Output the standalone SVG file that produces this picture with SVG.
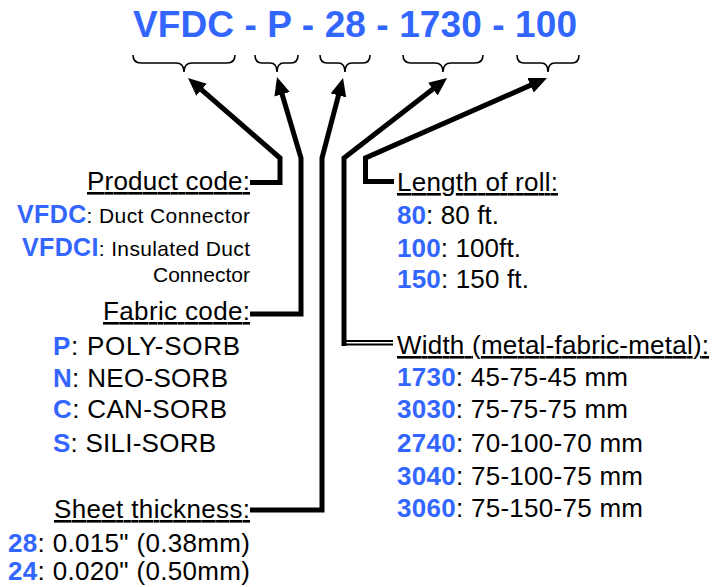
<svg xmlns="http://www.w3.org/2000/svg" width="724" height="587" viewBox="0 0 724 587">
<style>
text{font-family:"Liberation Sans",Arial,sans-serif;fill:#000;}
.t{font-size:37px;font-weight:bold;fill:#3366ff;}
.h{font-size:26px;text-decoration:underline;}
.i{font-size:26px;}
.s{font-size:21px;}
.b{font-weight:bold;fill:#3366ff;}
.pb{font-size:25px;font-weight:bold;fill:#3366ff;}
.brace{fill:none;stroke:#000;stroke-width:1.6;}
.arr{fill:none;stroke:#000;stroke-width:5;stroke-linejoin:miter;marker-end:url(#ah);}
.dbl{stroke:#000;stroke-width:2;}
</style>
<defs>
<marker id="ah" markerUnits="userSpaceOnUse" markerWidth="18" markerHeight="16" viewBox="0 0 18 16" refX="12" refY="8" orient="auto">
<path d="M0,0 L18,8 L0,16 Z" fill="#000"/>
</marker>
</defs>
<rect width="724" height="587" fill="#fff"/>
<g id="title">
<text class="t" x="133" y="37" textLength="444" lengthAdjust="spacing">VFDC - P - 28 - 1730 - 100</text>
</g>
<g id="braces">
<path class="brace" d="M133,55 Q133,63 141,63 H176 Q184,63 184,72 Q184,63 192,63 H227 Q235,63 235,55"/>
<path class="brace" d="M255,55 Q255,63 262,63 H270 Q277,63 277,72 Q277,63 284,63 H291 Q298,63 298,55"/>
<path class="brace" d="M320,55 Q320,63 327,63 H338 Q345,63 345,72 Q345,63 352,63 H363 Q370,63 370,55"/>
<path class="brace" d="M403,55 Q403,63 411,63 H435 Q443,63 443,72 Q443,63 451,63 H475 Q483,63 483,55"/>
<path class="brace" d="M517,55 Q517,63 524,63 H541 Q548,63 548,72 Q548,63 555,63 H572 Q579,63 579,55"/>
</g>
<g id="connectors">
<path class="arr" d="M250,182.5 H280 V158 L192.5,81.9"/>
<path class="arr" d="M250,314 H301 V158 L278.7,82.8"/>
<path class="arr" d="M250,510 H322 V158 L341.5,83.8"/>
<path class="arr" d="M344,346 V158 L442.3,81.7"/>
<line class="dbl" x1="342" y1="341" x2="393" y2="341"/>
<line class="dbl" x1="342" y1="344.5" x2="393" y2="344.5"/>
<path class="arr" d="M394,181.5 H365.5 V158 L541.5,80.4"/>
</g>
<g id="product-code">
<text class="h" x="87" y="190" textLength="163" lengthAdjust="spacing">Product code:</text>
<text x="17" y="223" textLength="233" lengthAdjust="spacing"><tspan class="pb">VFDC</tspan><tspan class="s">: Duct Connector</tspan></text>
<text x="22" y="256" textLength="228" lengthAdjust="spacing"><tspan class="pb">VFDCI</tspan><tspan class="s">: Insulated Duct</tspan></text>
<text class="s" x="153" y="282" textLength="97" lengthAdjust="spacing">Connector</text>
</g>
<g id="fabric-code">
<text class="h" x="103" y="320" textLength="147" lengthAdjust="spacing">Fabric code:</text>
<text class="i" x="53" y="355" textLength="187" lengthAdjust="spacing"><tspan class="b">P</tspan>: POLY-SORB</text>
<text class="i" x="53" y="387" textLength="175" lengthAdjust="spacing"><tspan class="b">N</tspan>: NEO-SORB</text>
<text class="i" x="53" y="418" textLength="174" lengthAdjust="spacing"><tspan class="b">C</tspan>: CAN-SORB</text>
<text class="i" x="53" y="452" textLength="163" lengthAdjust="spacing"><tspan class="b">S</tspan>: SILI-SORB</text>
</g>
<g id="sheet-thickness">
<text class="h" x="54" y="518" textLength="196" lengthAdjust="spacing">Sheet thickness:</text>
<text class="i" x="8" y="552" textLength="242" lengthAdjust="spacing"><tspan class="b">28</tspan>: 0.015" (0.38mm)</text>
<text class="i" x="8" y="580" textLength="242" lengthAdjust="spacing"><tspan class="b">24</tspan>: 0.020" (0.50mm)</text>
</g>
<g id="length-of-roll">
<text class="h" x="397" y="191" textLength="161" lengthAdjust="spacing">Length of roll:</text>
<text class="i" x="397" y="224" textLength="102" lengthAdjust="spacing"><tspan class="b">80</tspan>: 80 ft.</text>
<text class="i" x="397" y="257" textLength="124" lengthAdjust="spacing"><tspan class="b">100</tspan>: 100ft.</text>
<text class="i" x="397" y="288" textLength="132" lengthAdjust="spacing"><tspan class="b">150</tspan>: 150 ft.</text>
</g>
<g id="width">
<text class="h" x="397" y="354" textLength="312" lengthAdjust="spacing">Width (metal-fabric-metal):</text>
<text class="i" x="397" y="386" textLength="231" lengthAdjust="spacing"><tspan class="b">1730</tspan>: 45-75-45 mm</text>
<text class="i" x="397" y="418" textLength="231" lengthAdjust="spacing"><tspan class="b">3030</tspan>: 75-75-75 mm</text>
<text class="i" x="397" y="452" textLength="246" lengthAdjust="spacing"><tspan class="b">2740</tspan>: 70-100-70 mm</text>
<text class="i" x="397" y="485" textLength="246" lengthAdjust="spacing"><tspan class="b">3040</tspan>: 75-100-75 mm</text>
<text class="i" x="397" y="517" textLength="246" lengthAdjust="spacing"><tspan class="b">3060</tspan>: 75-150-75 mm</text>
</g>
</svg>
